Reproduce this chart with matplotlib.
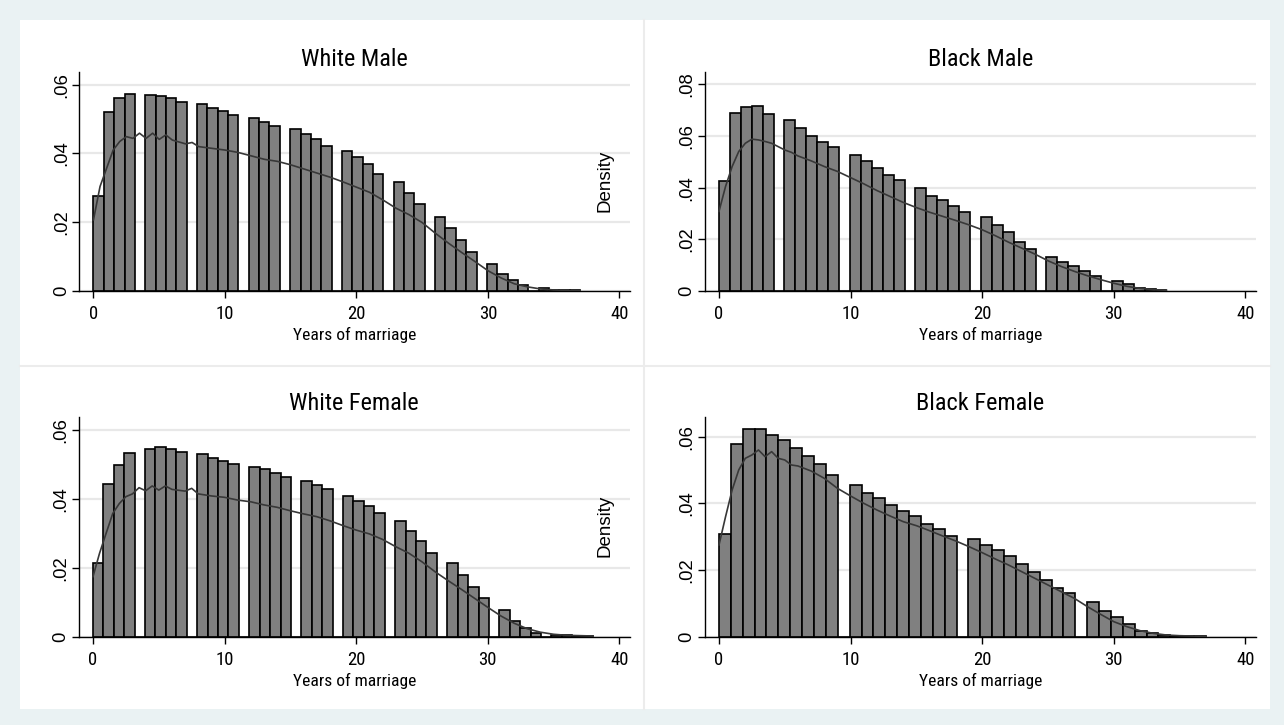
import numpy as np
import matplotlib
matplotlib.use("Agg")
import matplotlib.pyplot as plt
from matplotlib.lines import Line2D

# ---------------- data ----------------
titles = ["White Male", "Black Male", "White Female", "Black Female"]
x_label = "Years of marriage"
y_title = "Density"

# histogram bar heights (density, in %) for each integer year of marriage
wm_years = np.arange(0, 38)
wm_heights = [2.75, 5.21, 5.62, 5.73, 5.70, 5.68, 5.62, 5.51, 5.43, 5.32, 5.24, 5.12, 5.04,
              4.92, 4.81, 4.70, 4.57, 4.42, 4.23, 4.06, 3.89, 3.68, 3.39, 3.17, 2.84, 2.53,
              2.16, 1.82, 1.49, 1.12, 0.78, 0.50, 0.31, 0.16, 0.08, 0.04, 0.03, 0.03]
bm_years = np.arange(0, 35)
bm_heights = [4.27, 6.89, 7.14, 7.18, 6.86, 6.61, 6.30, 6.01, 5.77, 5.59, 5.26, 5.03, 4.78,
              4.51, 4.29, 3.98, 3.69, 3.51, 3.31, 3.05, 2.87, 2.56, 2.28, 1.89, 1.61, 1.30,
              1.11, 0.97, 0.79, 0.57, 0.37, 0.27, 0.13, 0.06, 0.04]
wf_years = np.arange(0, 39)
wf_heights = [2.13, 4.42, 4.98, 5.33, 5.45, 5.51, 5.45, 5.36, 5.29, 5.18, 5.09, 5.00, 4.93,
              4.85, 4.75, 4.62, 4.51, 4.40, 4.29, 4.09, 3.94, 3.78, 3.58, 3.35, 3.07, 2.77,
              2.43, 2.15, 1.79, 1.45, 1.12, 0.76, 0.45, 0.26, 0.12, 0.06, 0.04, 0.03, 0.03]
bf_years = np.arange(0, 38)
bf_heights = [3.08, 5.79, 6.22, 6.22, 6.04, 5.90, 5.67, 5.41, 5.18, 4.86, 4.55, 4.32, 4.17,
              3.96, 3.78, 3.62, 3.39, 3.24, 3.03, 2.92, 2.76, 2.60, 2.43, 2.17, 1.94, 1.70,
              1.45, 1.30, 1.05, 0.78, 0.58, 0.38, 0.17, 0.10, 0.05, 0.03, 0.02, 0.02]

# number of histogram bins and data range per panel
wm_bins, wm_max = 47, 37
bm_bins, bm_max = 41, 34
wf_bins, wf_max = 48, 38
bf_bins, bf_max = 41, 37

# kernel density curves (in %)
wm_kde_x = [0, .5, 1, 1.5, 2, 2.5, 3, 3.5, 4, 4.5, 5, 5.5, 6, 7, 7.5, 8] + list(range(9, 38))
wm_kde_y = [2.07, 3.04, 3.57, 4.1, 4.35, 4.49, 4.44, 4.59, 4.44, 4.59, 4.41, 4.54, 4.39,
            4.28, 4.32, 4.2, 4.15, 4.1, 4.03, 3.93, 3.83, 3.77, 3.67, 3.55, 3.43, 3.31,
            3.17, 3.02, 2.87, 2.65, 2.41, 2.22, 1.99, 1.68, 1.39, 1.12, 0.86, 0.59, 0.38,
            0.21, 0.12, 0.06, 0.03, 0.02, 0.01]
bm_kde_x = [0, .5, 1, 1.5, 2, 2.5, 3, 3.5, 4, 4.5, 5, 5.5, 6] + list(range(7, 35))
bm_kde_y = [3.08, 4.05, 4.82, 5.4, 5.72, 5.88, 5.85, 5.79, 5.72, 5.59, 5.46, 5.37, 5.23,
            5.04, 4.82, 4.63, 4.39, 4.15, 3.89, 3.66, 3.43, 3.23, 3.05, 2.89, 2.73, 2.56,
            2.37, 2.14, 1.89, 1.66, 1.43, 1.17, 0.95, 0.76, 0.59, 0.44, 0.30, 0.18, 0.10,
            0.05, 0.03]
wf_kde_x = [0, .5, 1, 1.5, 2, 2.5, 3, 3.5, 4, 4.5, 5, 5.5, 6, 7, 7.5, 8] + list(range(9, 39))
wf_kde_y = [1.74, 2.42, 3.0, 3.57, 3.86, 4.06, 4.14, 4.32, 4.23, 4.37, 4.25, 4.37, 4.27,
            4.22, 4.30, 4.14, 4.08, 4.04, 3.96, 3.91, 3.82, 3.75, 3.65, 3.56, 3.48, 3.36,
            3.22, 3.09, 2.98, 2.82, 2.61, 2.42, 2.17, 1.88, 1.62, 1.37, 1.11, 0.85, 0.60,
            0.39, 0.23, 0.13, 0.07, 0.04, 0.03, 0.02]
bf_kde_x = [0, .5, 1, 1.5, 2, 2.5, 3, 3.5, 4, 4.5, 5, 5.5, 6] + list(range(7, 38))
bf_kde_y = [2.75, 3.6, 4.4, 5.0, 5.35, 5.45, 5.6, 5.4, 5.55, 5.35, 5.3, 5.15, 5.12,
            4.97, 4.75, 4.45, 4.22, 4.0, 3.8, 3.62, 3.45, 3.33, 3.18, 3.02, 2.87, 2.70,
            2.52, 2.33, 2.15, 1.95, 1.75, 1.55, 1.35, 1.15, 0.90, 0.67, 0.45, 0.30, 0.18,
            0.10, 0.05, 0.03, 0.02, 0.01]

x_ticks = [0, 10, 20, 30, 40]
x_ticklabels = ["0", "10", "20", "30", "40"]
y_ticks_small = [0, 0.02, 0.04, 0.06]
y_ticklabels_small = ["0", ".02", ".04", ".06"]
y_ticks_bm = [0, 0.02, 0.04, 0.06, 0.08]
y_ticklabels_bm = ["0", ".02", ".04", ".06", ".08"]

# ---------------- styling / layout ----------------
W, H = 1284, 725
NARROW = ["Roboto Condensed", "Liberation Sans", "DejaVu Sans"]
REG = ["Liberation Sans", "DejaVu Sans"]
BG = "#eaf2f3"
BAR = "#808080"
KDE = "#383838"
GRID = "#e8e8e8"

fig = plt.figure(figsize=(W / 100, H / 100), dpi=100)
fig.patch.set_facecolor(BG)


def fx(px):
    return px / W


def fy(py):
    return 1 - py / H


fig.add_artist(plt.Rectangle((fx(20), fy(709)), fx(1270) - fx(20), fy(20) - fy(709),
                             transform=fig.transFigure, facecolor="white", edgecolor="none",
                             zorder=-10))
fig.add_artist(Line2D([fx(644), fx(644)], [fy(20), fy(709)], color="#ececec", lw=1.5,
                      transform=fig.transFigure))
fig.add_artist(Line2D([fx(20), fx(1270)], [fy(366), fy(366)], color="#ececec", lw=1.5,
                      transform=fig.transFigure))

panels = [
    dict(title=titles[0], years=wm_years, h=wm_heights, nb=wm_bins, mx=wm_max,
         kx=wm_kde_x, ky=wm_kde_y, rect=(79, 72, 630, 291), ymax=0.0637,
         yt=y_ticks_small, ytl=y_ticklabels_small, title_y=66, xl_y=340, dens=(605, 181)),
    dict(title=titles[1], years=bm_years, h=bm_heights, nb=bm_bins, mx=bm_max,
         kx=bm_kde_x, ky=bm_kde_y, rect=(704.5, 72, 1256, 291), ymax=0.0848,
         yt=y_ticks_bm, ytl=y_ticklabels_bm, title_y=66, xl_y=340, dens=None),
    dict(title=titles[2], years=wf_years, h=wf_heights, nb=wf_bins, mx=wf_max,
         kx=wf_kde_x, ky=wf_kde_y, rect=(78.5, 417.3, 630, 636.7), ymax=0.0636,
         yt=y_ticks_small, ytl=y_ticklabels_small, title_y=410, xl_y=686, dens=(605, 526)),
    dict(title=titles[3], years=bf_years, h=bf_heights, nb=bf_bins, mx=bf_max,
         kx=bf_kde_x, ky=bf_kde_y, rect=(704.5, 417.3, 1256, 636.7), ymax=0.0658,
         yt=y_ticks_small, ytl=y_ticklabels_small, title_y=410, xl_y=686, dens=None),
]

for p in panels:
    l, t, r, b = p["rect"]
    ax = fig.add_axes([fx(l), fy(b), fx(r) - fx(l), fy(t) - fy(b)])
    ax.set_facecolor("none")
    edges = np.linspace(0, p["mx"], p["nb"] + 1)
    ax.hist(p["years"], bins=edges, weights=np.array(p["h"]) / 100.0,
            color=BAR, edgecolor="black", linewidth=1.2, zorder=2)
    ax.plot(p["kx"], np.array(p["ky"]) / 100.0, color=KDE, lw=1.2, zorder=3)

    ax.set_xlim(-1.1, 40.8)
    ax.set_ylim(0, p["ymax"])
    ax.set_xticks(x_ticks)
    ax.set_xticklabels(x_ticklabels, family=NARROW, fontsize=13.5)
    ax.set_yticks(p["yt"])
    ax.set_yticklabels(p["ytl"], family=REG, fontsize=13.3, rotation=90, va="center")
    ax.tick_params(axis="x", length=5, width=1, pad=5, colors="black")
    ax.tick_params(axis="y", length=5, width=1, pad=1.5, colors="black")
    for s in ("top", "right"):
        ax.spines[s].set_visible(False)
    for s in ("left", "bottom"):
        ax.spines[s].set_linewidth(1.0)
        ax.spines[s].set_color("black")
    ax.set_axisbelow(True)
    ax.yaxis.grid(True, color=GRID, lw=1.6)
    ax.xaxis.grid(False)

    cx = (l + r) / 2
    fig.text(fx(cx), fy(p["title_y"]), p["title"], family=NARROW, fontsize=17.5,
             ha="center", va="baseline")
    fig.text(fx(cx), fy(p["xl_y"]), x_label, family=NARROW, fontsize=12.6,
             ha="center", va="baseline")
    if p["dens"] is not None:
        fig.text(fx(p["dens"][0]), fy(p["dens"][1]), y_title, family=REG, fontsize=13.5,
                 rotation=90, ha="center", va="center")

fig.savefig("out.png", dpi=100, facecolor=fig.get_facecolor())
